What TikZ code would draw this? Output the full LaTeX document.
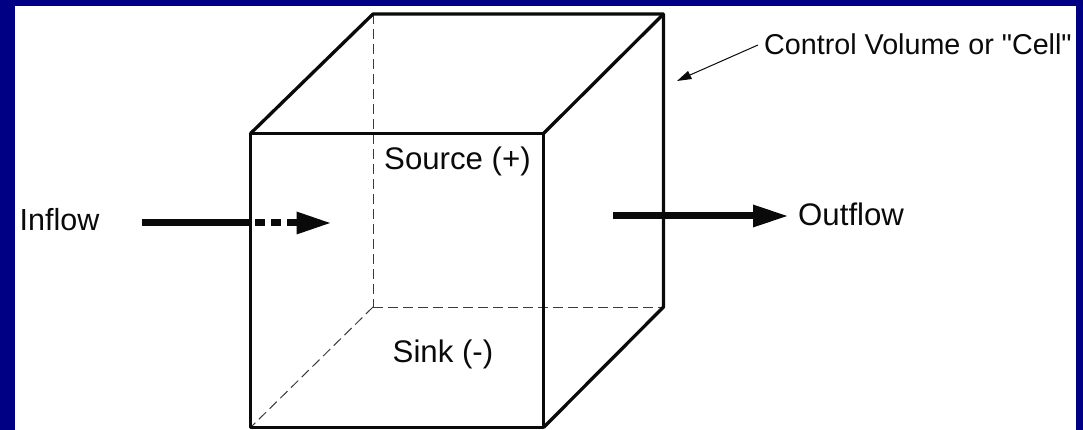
\documentclass[tikz,border=0pt]{standalone}
\usepackage{fontspec}
\setmainfont{Liberation Sans}[Ligatures=TeXOff]
\usetikzlibrary{arrows.meta}
\definecolor{framenavy}{RGB}{0,0,132}
\definecolor{inkblack}{RGB}{10,10,10}
\tikzset{
  cubeedge/.style={draw=inkblack,line width=3.3pt,line join=round},
  hiddenedge/.style={draw=inkblack!80,line width=1pt,dash pattern=on 10pt off 5pt},
  flowline/.style={draw=inkblack,line width=7pt},
  flowtip/.style={fill=inkblack,draw=none},
  label/.style={inner sep=0pt,anchor=base west,text=inkblack,font=\fontsize{31.2}{31.2}\selectfont}
}
\begin{document}
\begin{tikzpicture}[x=1pt,y=-1pt]
\useasboundingbox (0,0) rectangle (1083,430);
\fill[framenavy] (0,0) rectangle (1083,430);
\fill[white] (15,6) rectangle (1076,430);
% corners
\coordinate (fa) at (250.5,133.5);
\coordinate (fb) at (543.5,133.5);
\coordinate (fc) at (543.5,427.5);
\coordinate (fd) at (250.5,427.5);
\coordinate (ba) at (373,14);
\coordinate (bb) at (663.5,14);
\coordinate (bc) at (663.5,307);
\coordinate (bd) at (373,307);
% hidden edges
\draw[hiddenedge] (ba) -- (bd);
\draw[hiddenedge] (bd) -- (bc);
\draw[hiddenedge] (bd) -- (fd);
% visible edges
\draw[cubeedge] (fa) -- (fb) -- (fc) -- (fd) -- cycle;
\draw[cubeedge] (fa) -- (ba) -- (bb) -- (bc) -- (fc);
\draw[cubeedge] (fb) -- (bb);
% inflow
\coordinate (in0) at (142,223);
\coordinate (in1) at (252,223);
\coordinate (in1b) at (255,223);
\coordinate (in2) at (297,223);
\coordinate (in3) at (330,223);
\draw[flowline] (in0) -- (in1);
\draw[flowline,dash pattern=on 10pt off 6pt] (in1b) -- (in2);
\fill[flowtip] (in3) -- (296.5,211.5) -- (296.5,234.5) -- cycle;
% outflow
\coordinate (out0) at (613,216);
\coordinate (out1) at (755,216);
\coordinate (out2) at (787,216);
\draw[flowline] (out0) -- (out1);
\fill[flowtip] (out2) -- (753,204.5) -- (753,227.5) -- cycle;
% leader
\coordinate (cvend) at (758,45);
\coordinate (cvtip) at (677,81);
\draw[draw=inkblack,line width=1pt] (cvend) -- (690,75);
\fill[flowtip] (cvtip) -- (688,71) -- (692,79) -- cycle;
% labels
\node[label,font=\fontsize{30.5}{30.5}\selectfont] (inflow) at (19.5,231) {Inflow};
\node[label] (outflow) at (798,225.5) {Outflow};
\node[label] (source) at (384,170) {Source (+)};
\node[label] (sink) at (392.5,362) {Sink (-)};
\node[label,font=\fontsize{28.7}{28.7}\selectfont] (cv) at (764,55) {Control Volume or "Cell"};
\end{tikzpicture}
\end{document}
